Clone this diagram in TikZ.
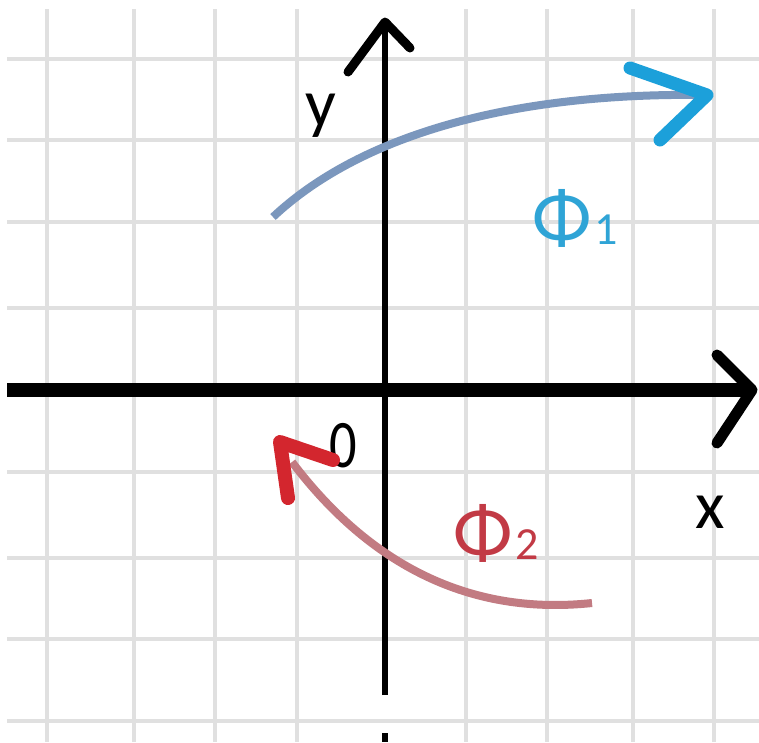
\documentclass[tikz,border=0pt]{standalone}
\usepackage{fontspec}
\setmainfont{Carlito}
\usepackage{xcolor}
\usetikzlibrary{positioning}

\definecolor{shaftblue}{HTML}{7B97BD}
\definecolor{headblue}{HTML}{1CA0DA}
\definecolor{textblue}{HTML}{2FA4D6}
\definecolor{shaftred}{HTML}{C27B82}
\definecolor{headred}{HTML}{D3262E}
\definecolor{textred}{HTML}{C23A45}

\newcommand{\phifont}{\fontsize{78}{78}\selectfont}
\newcommand{\idxfont}{\fontsize{46}{46}\selectfont}
\newcommand{\axfont}{\fontsize{68}{68}\selectfont}

\begin{document}
\begin{tikzpicture}[
    x=1pt, y=-1pt,
    gridline/.style={draw=black!12, line width=3.5pt},
    axis/.style={draw=black, line width=#1},
    head/.style={line width=#1, line cap=round, line join=round},
    txt/.style={inner sep=0pt, font=\axfont}
]
\useasboundingbox[fill=white] (0,0) rectangle (759,742);

% grid
\foreach \gx in {47,134,215,297,466,547,633,714}
    \draw[gridline] (\gx,9) -- (\gx,742);
\foreach \gy in {59,140,222,308,472,558,639,721}
    \draw[gridline] (7,\gy) -- (759,\gy);

% axes
\coordinate (xstart) at (7,390);
\coordinate (xend) at (752,390);
\coordinate (ystart) at (385,695);
\coordinate (yend) at (385,22);
\draw[axis=6pt] (ystart) -- (yend);
\draw[axis=6pt] (385,733) -- (385,742);
\draw[axis=14pt] (xstart) -- (xend);
\draw[head=11pt] (717,355) -- (xend) -- (717,443);
\draw[head=9pt] (348,72) -- (yend) -- (410,48);

\node[txt] (ylab) at (321,116) {y};
\node[txt] (xlab) at (710,512) {x};
\node[txt] (orig) at (343,446) {\scalebox{0.8}[1]{0}};

% flux 1
\coordinate (p1a) at (273,217);
\coordinate (p1b) at (707,95);
\draw[shaftblue, line width=8pt] (p1a) .. controls (355,140) and (500,92) .. (p1b);
\draw[headblue, head=13pt] (630,68) -- (p1b) -- (660,140);
\node[textblue, inner sep=0pt, font=\phifont] (phi1) at (562,218) {Φ};
\node[textblue, inner sep=0pt, font=\idxfont, right=2pt of phi1, yshift=-12pt] (i1) {1};

% flux 2
\coordinate (p2a) at (592,603);
\coordinate (p2b) at (280,442);
\draw[shaftred, line width=8pt] (p2a) .. controls (470,616) and (370,565) .. (292,462);
\draw[headred, head=14pt] (333,460) -- (p2b) -- (288,498);
\node[textred, inner sep=0pt, font=\phifont] (phi2) at (483,533) {Φ};
\node[textred, inner sep=0pt, font=\idxfont, right=2pt of phi2, yshift=-12pt] (i2) {2};

\end{tikzpicture}
\end{document}
